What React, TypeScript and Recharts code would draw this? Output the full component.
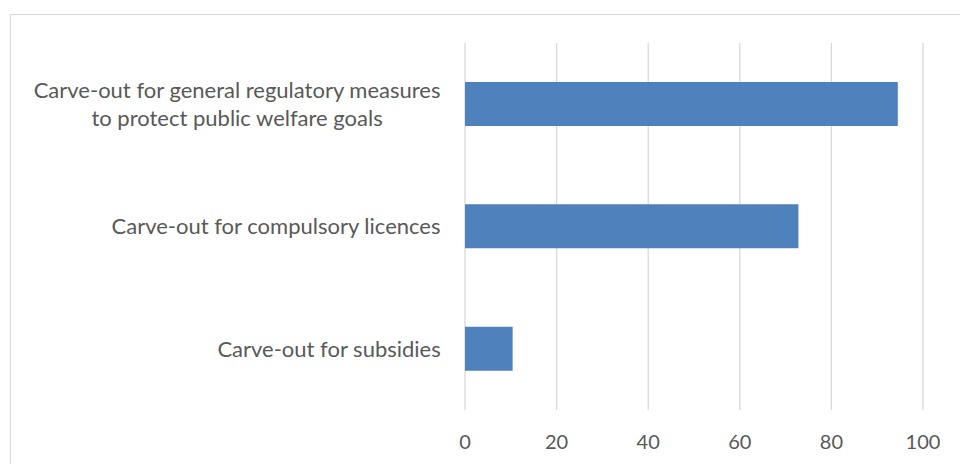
import React from "react";
import { BarChart, Bar, XAxis, YAxis, CartesianGrid } from "recharts";

const categories = [
  "Carve-out for general regulatory measures\nto protect public welfare goals",
  "Carve-out for compulsory licences",
  "Carve-out for subsidies",
];
const shares = [94.5, 72.8, 10.4];
const xTicks = [0, 20, 40, 60, 80, 100];

const FONT = "Lato, 'Open Sans', sans-serif";
const FONT_SIZE = 20;
const LABEL_SIZE = 22;

const data = categories.map((name, i) => ({ name, value: shares[i] }));

let ctx: CanvasRenderingContext2D | null = null;
const measure = (s: string) => {
  if (!ctx) ctx = document.createElement("canvas").getContext("2d");
  if (!ctx) return s.length * LABEL_SIZE * 0.5;
  ctx.font = `${LABEL_SIZE}px Lato`;
  return ctx.measureText(s).width;
};

const CategoryTick = (props: any) => {
  const { x, y, payload } = props;
  const lines = String(payload.value).split("\n");
  const right = x - 24;
  const widest = Math.max(...lines.map(measure));
  const cx = right - widest / 2;
  const lh = 28;
  const startY = y - ((lines.length - 1) * lh) / 2;
  return (
    <text fill="#595959" fontSize={LABEL_SIZE} fontFamily={FONT} textAnchor="middle">
      {lines.map((l, i) => (
        <tspan key={i} x={cx} y={startY + i * lh} dy="0.35em">
          {l}
        </tspan>
      ))}
    </text>
  );
};

const App = () => {
  return (
    <div style={{ position: "absolute", left: 0, top: 0, width: 960, height: 464, background: "#fff", overflow: "hidden" }}>
      <div
        style={{
          position: "absolute",
          left: 10,
          top: 14,
          width: 980,
          height: 480,
          border: "1px solid #d9d9d9",
          boxSizing: "border-box",
        }}
      />
      <BarChart
        width={960}
        height={464}
        data={data}
        layout="vertical"
        margin={{ top: 43, right: 37, bottom: 14, left: 0 }}
        barSize={44}
        style={{ position: "absolute", left: 0, top: 0 }}
      >
        <CartesianGrid horizontal={false} stroke="#d9d9d9" strokeWidth={1.3} />
        <XAxis
          type="number"
          domain={[0, 100]}
          ticks={xTicks}
          axisLine={false}
          tickLine={false}
          tickSize={0}
          tickMargin={25}
          height={40}
          tick={{ fill: "#595959", fontSize: FONT_SIZE, fontFamily: FONT }}
        />
        <YAxis
          type="category"
          dataKey="name"
          width={465}
          axisLine={false}
          tickLine={false}
          tickSize={0}
          tickMargin={0}
          tick={<CategoryTick />}
        />
        <Bar dataKey="value" fill="#4f81bd" isAnimationActive={false} />
      </BarChart>
    </div>
  );
};

export default App;
